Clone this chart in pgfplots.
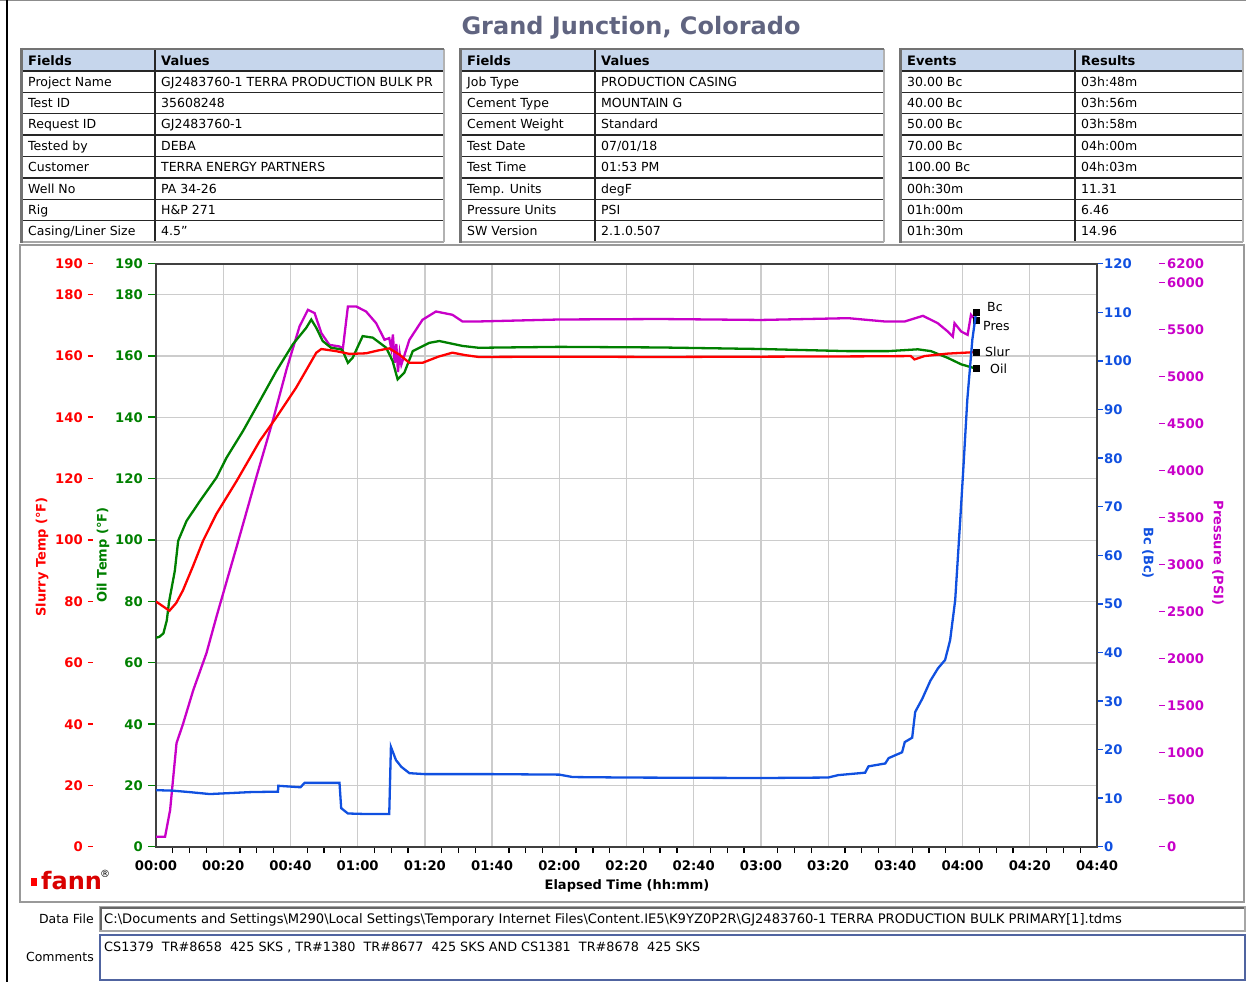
\documentclass[border=0pt]{standalone}
\usepackage{pgfplots}
\usepackage{pgfplotstable}
\pgfplotsset{compat=1.18}
\usepackage{fontspec}
\setmainfont{DejaVu Sans}
\definecolor{cred}{RGB}{255,0,0}
\definecolor{cgreen}{RGB}{0,128,0}
\definecolor{cblue}{RGB}{16,80,224}
\definecolor{cmag}{RGB}{200,0,200}
\definecolor{hdr}{RGB}{198,214,236}
\definecolor{ttl}{RGB}{96,100,128}
\definecolor{cbox}{RGB}{80,100,160}
\newcommand{\tabfont}{\fontsize{12.5}{14}\selectfont}
\newcommand{\tickfont}{\fontsize{13.2}{15}\selectfont\bfseries}
\newcommand{\dash}[1]{\rule[0.33em]{#1}{1.4pt}}
\newcommand{\gl}[1]{#1\hspace{5pt}\dash{7pt}}
\newcommand{\rl}[1]{#1\hspace{5pt}\dash{5pt}}
\newcommand{\bl}[1]{\dash{5pt}\hspace{1pt}#1}
\newcommand{\ml}[1]{\dash{6pt}\hspace{2pt}#1}
\newcommand{\rt}[3]{\node[anchor=base west, inner sep=0pt, font=\tabfont] at (#1,{64.8+21.375*#2}) {#3};}
\newcommand{\hdt}[2]{\node[anchor=base west, inner sep=0pt, font=\fontsize{13}{15}\selectfont\bfseries] at (#1,65.5) {#2};}

\pgfplotstableread{
t v
0 80
2 78.5
4 77
6 79.5
8 83.6
11 91.5
14 99.8
18 108.6
24 119.3
30.9 132.4
35.8 140
41.7 149.7
47.7 161.1
49.2 162.3
53.6 161.6
57.6 160.7
62.5 160.9
66 161.8
69.4 162.5
72.4 160.5
75.4 157.8
79.3 157.8
84 159.8
88.2 161.1
92 160.3
96 159.7
120 159.8
150 159.7
180 159.8
210 159.9
224.6 160
225.7 158.9
228.7 160
235.6 160.8
244 161.3
}\slur

\pgfplotstableread{
t v
0 68.2
1 68.5
2.2 69.6
3.2 73.8
3.9 80
5.6 90
6.6 99.8
9.1 106.3
13.1 112.8
18 120.4
21 126.9
25.9 135.6
30.9 145.4
35.8 155.1
40.7 163.8
44.7 169.2
46.2 171.9
47.7 169.2
49.6 164.9
52.1 162.7
55.1 162.2
55.6 161.6
57.1 157.8
58.5 159.4
61.5 166.5
64.5 166
68.5 162.7
70.4 158.4
71.9 152.4
73.9 154.6
76.4 161.6
81.3 164.3
84.3 164.9
91.2 163.3
96 162.7
120 163
150 162.8
180 162.3
206 161.6
217.8 161.6
226.7 162.2
230.6 161.6
235.6 159.4
239.6 157.3
244 155.9
}\oil

\pgfplotstableread{
t v
0 110
2.7 110
4.2 393
6.1 1103
8.1 1316
11.1 1670
15 2060
18 2450
20 2699
24 3194
29.9 3939
34.8 4540
38.8 5074
42.7 5535
45.2 5713
47.2 5678
49.2 5465
51.6 5340
54.6 5323
55.6 5300
57.1 5748
59.6 5748
62.5 5695
65.5 5571
68 5394
69.4 5412
70 5300
70.5 5450
71 5150
71.5 5350
72 5050
72.5 5250
73 5130
75.4 5394
79.3 5607
83.3 5695
88.2 5660
91.2 5589
96 5589
120 5610
150 5615
180 5605
206 5624
216.8 5589
222.8 5589
228.2 5649
232.6 5571
235.6 5482
237.1 5429
237.6 5571
239.6 5482
241.5 5447
242.5 5660
244 5600
}\pres

\pgfplotstableread{
t v
0 11.7
5 11.6
10 11.3
16 10.9
22 11.1
28 11.3
36.3 11.4
36.4 12.6
43 12.3
44.2 13.2
54.6 13.2
55.1 8.0
57.1 6.9
62 6.8
69.4 6.8
69.9 20.6
71.4 17.9
73 16.5
75.4 15.2
80 15.0
100 15.0
120 14.9
124 14.4
140 14.3
180 14.2
200 14.3
203 14.8
211 15.3
212 16.6
217 17.2
218 18.3
222 19.5
222.8 21.6
225 22.5
225.9 27.8
228 30.5
230.4 34.2
232.7 36.8
234.8 38.5
236.3 42.6
237.8 50.8
239.3 67.3
240.2 77.6
241.4 92
242.9 104.4
244 110
}\bc

\pgfplotsset{base/.style={scale only axis, width=941pt, height=583pt,
  xmin=0, xmax=280, at={(156pt,-847pt)}, anchor=south west}}

\begin{document}
\begin{tikzpicture}
\path[use as bounding box] (0pt,0pt) rectangle (1246pt,-982pt);

% ---------- main axis (grid, x labels, green tick labels)
\begin{axis}[base, ymin=0, ymax=190,
  axis line style={line width=2pt, black!75},
  grid=major, major grid style={line width=1.3pt, black!20},
  xtick={0,20,...,280},
  xticklabels={00:00,00:20,00:40,01:00,01:20,01:40,02:00,02:20,02:40,03:00,03:20,03:40,04:00,04:20,04:40},
  minor xtick={5,10,15,25,30,35,45,50,55,65,70,75,85,90,95,105,110,115,125,130,135,145,150,155,165,170,175,185,190,195,205,210,215,225,230,235,245,250,255,265,270,275},
  xtick pos=bottom, ytick pos=left, tick align=outside,
  major tick length=0pt, minor tick length=6pt,
  minor tick style={line width=1.3pt, black},
  xticklabel style={font=\tickfont, black, yshift=-10pt},
  ytick={0,20,40,60,80,100,120,140,160,180,190},
  yticklabels={\gl{0},\gl{20},\gl{40},\gl{60},\gl{80},\gl{100},\gl{120},\gl{140},\gl{160},\gl{180},\gl{190}},
  yticklabel style={font=\tickfont, text=cgreen, anchor=east, inner sep=0pt, xshift=-1pt},
]
\addplot[draw=none] coordinates {(0,0)};
\end{axis}

% ---------- pressure axis
\begin{axis}[base, ymin=0, ymax=6200, hide x axis, axis y line*=right,
  y axis line style={draw=none}, major tick length=0pt,
  ytick={0,500,1000,1500,2000,2500,3000,3500,4000,4500,5000,5500,6000,6200},
  yticklabels={\ml{0},\ml{500},\ml{1000},\ml{1500},\ml{2000},\ml{2500},\ml{3000},\ml{3500},\ml{4000},\ml{4500},\ml{5000},\ml{5500},\ml{6000},\ml{6200}},
  yticklabel style={font=\tickfont, text=cmag, anchor=west, inner sep=0pt, xshift=62pt},
]
\addplot[cmag, line width=2.3pt] table[x=t,y=v] {\pres};
\addplot[only marks, mark=square*, mark size=3pt, black] coordinates {(244,5600)};
\node[anchor=west, font=\tabfont, inner sep=0pt] at (axis cs:244,5540) [xshift=7pt] {Pres};
\end{axis}

% ---------- temperature axis (red labels, red & green curves)
\begin{axis}[base, ymin=0, ymax=190, hide x axis, axis y line*=left,
  y axis line style={draw=none}, major tick length=0pt,
  ytick={0,20,40,60,80,100,120,140,160,180,190},
  yticklabels={\rl{0},\rl{20},\rl{40},\rl{60},\rl{80},\rl{100},\rl{120},\rl{140},\rl{160},\rl{180},\rl{190}},
  yticklabel style={font=\tickfont, text=cred, anchor=east, inner sep=0pt, xshift=-63pt},
]
\addplot[cgreen, line width=2.3pt] table[x=t,y=v] {\oil};
\addplot[cred, line width=2.3pt] table[x=t,y=v] {\slur};
\addplot[only marks, mark=square*, mark size=3pt, black] coordinates {(244,161.3) (244,155.9)};
\node[anchor=west, font=\tabfont, inner sep=0pt] at (axis cs:244,161.3) [xshift=9pt] {Slur};
\node[anchor=west, font=\tabfont, inner sep=0pt] at (axis cs:244,155.9) [xshift=14pt] {Oil};
\end{axis}

% ---------- Bc axis
\begin{axis}[base, ymin=0, ymax=120, hide x axis, axis y line*=right,
  y axis line style={draw=none}, major tick length=0pt,
  ytick={0,10,20,30,40,50,60,70,80,90,100,110,120},
  yticklabels={\bl{0},\bl{10},\bl{20},\bl{30},\bl{40},\bl{50},\bl{60},\bl{70},\bl{80},\bl{90},\bl{100},\bl{110},\bl{120}},
  yticklabel style={font=\tickfont, text=cblue, anchor=west, inner sep=0pt, xshift=1pt},
]
\addplot[cblue, line width=2.3pt] table[x=t,y=v] {\bc};
\addplot[only marks, mark=square*, mark size=3pt, black] coordinates {(244,110)};
\node[anchor=west, font=\tabfont, inner sep=0pt] at (axis cs:244,111.2) [xshift=11pt] {Bc};
\end{axis}

\begin{scope}[x=1pt, y=-1pt]
% outer frame
\draw[black!45, line width=1.5pt] (0,0.75) -- (1246,0.75);
\draw[black, line width=2pt] (7,0) -- (7,982);
\draw[black!40, line width=2pt] (20,245) rectangle (1244,902);

% title
\node[font=\fontsize{24}{28}\selectfont\bfseries, text=ttl] at (631,28) {Grand Junction, Colorado};

% tables
\foreach \xa/\xm/\xb in {21/155/444, 460/595/884, 900/1075/1243} {
  \fill[hdr] (\xa,50) rectangle (\xb,71);
  \foreach \k in {0,...,7} \draw[black!85, line width=1.3pt] (\xa,{71+21.375*\k}) -- (\xb,{71+21.375*\k});
  \draw[black!85, line width=1.3pt] (\xm,50) -- (\xm,242);
  \draw[black!35, line width=1.3pt] (\xa,242) -- (\xb,242);
  \draw[black!30, line width=1.3pt] (\xb,49) -- (\xb,242);
  \draw[black!55, line width=2pt] (\xa-1,49) -- (\xb,49);
  \draw[black!55, line width=3pt] (\xa,48) -- (\xa,243);
}
\hdt{28}{Fields}\hdt{161}{Values}
\hdt{467}{Fields}\hdt{601}{Values}
\hdt{907}{Events}\hdt{1081}{Results}
\rt{28}{1}{Project Name}\rt{161}{1}{GJ2483760-1 TERRA PRODUCTION BULK PR}
\rt{28}{2}{Test ID}\rt{161}{2}{35608248}
\rt{28}{3}{Request ID}\rt{161}{3}{GJ2483760-1}
\rt{28}{4}{Tested by}\rt{161}{4}{DEBA}
\rt{28}{5}{Customer}\rt{161}{5}{TERRA ENERGY PARTNERS}
\rt{28}{6}{Well No}\rt{161}{6}{PA 34-26}
\rt{28}{7}{Rig}\rt{161}{7}{H\&P 271}
\rt{28}{8}{Casing/Liner Size}\rt{161}{8}{4.5"}
\rt{467}{1}{Job Type}\rt{601}{1}{PRODUCTION CASING}
\rt{467}{2}{Cement Type}\rt{601}{2}{MOUNTAIN G}
\rt{467}{3}{Cement Weight}\rt{601}{3}{Standard}
\rt{467}{4}{Test Date}\rt{601}{4}{07/01/18}
\rt{467}{5}{Test Time}\rt{601}{5}{01:53 PM}
\rt{467}{6}{Temp. Units}\rt{601}{6}{degF}
\rt{467}{7}{Pressure Units}\rt{601}{7}{PSI}
\rt{467}{8}{SW Version}\rt{601}{8}{2.1.0.507}
\rt{907}{1}{30.00 Bc}\rt{1081}{1}{03h:48m}
\rt{907}{2}{40.00 Bc}\rt{1081}{2}{03h:56m}
\rt{907}{3}{50.00 Bc}\rt{1081}{3}{03h:58m}
\rt{907}{4}{70.00 Bc}\rt{1081}{4}{04h:00m}
\rt{907}{5}{100.00 Bc}\rt{1081}{5}{04h:03m}
\rt{907}{6}{00h:30m}\rt{1081}{6}{11.31}
\rt{907}{7}{01h:00m}\rt{1081}{7}{6.46}
\rt{907}{8}{01h:30m}\rt{1081}{8}{14.96}

% axis titles
\node[rotate=90, font=\fontsize{13}{15}\selectfont\bfseries, text=cred] at (42,557) {Slurry Temp (°F)};
\node[rotate=90, font=\fontsize{13}{15}\selectfont\bfseries, text=cgreen] at (103,555) {Oil Temp (°F)};
\node[rotate=-90, font=\fontsize{13}{15}\selectfont\bfseries, text=cblue] at (1148,553) {Bc (Bc)};
\node[rotate=-90, font=\fontsize{13}{15}\selectfont\bfseries, text=cmag] at (1218,553) {Pressure (PSI)};
\node[font=\fontsize{13}{15}\selectfont\bfseries] at (627,886) {Elapsed Time (hh:mm)};

% logo
\fill[cred] (31,878) rectangle (37,886);
\node[anchor=base west, inner sep=0pt, font=\fontsize{24}{26}\selectfont\bfseries, text=cred!85!black] at (41,889) {fann};
\node[anchor=base west, inner sep=0pt, font=\fontsize{10}{12}\selectfont] at (100,877) {®};

% bottom boxes
\draw[black!35, line width=1.2pt] (100,907) rectangle (1245,931);
\draw[black!60, line width=1.2pt] (101,930) -- (101,908) -- (1244,908);
\node[anchor=base east, inner sep=0pt, font=\tabfont] at (94,923.5) {Data File};
\node[anchor=base west, inner sep=0pt, font=\fontsize{13.1}{15}\selectfont] at (104,923.5) {C:\textbackslash Documents and Settings\textbackslash M290\textbackslash Local Settings\textbackslash Temporary Internet Files\textbackslash Content.IE5\textbackslash K9YZ0P2R\textbackslash GJ2483760-1 TERRA PRODUCTION BULK PRIMARY[1].tdms};
\draw[cbox, line width=1.5pt] (100,935) rectangle (1245,980);
\node[anchor=base east, inner sep=0pt, font=\tabfont] at (94,961.5) {Comments};
\node[anchor=base west, inner sep=0pt, font=\fontsize{12.8}{15}\selectfont] at (104,951.5) {CS1379\ \ TR\#8658\ \ 425 SKS , TR\#1380\ \ TR\#8677\ \ 425 SKS AND CS1381\ \ TR\#8678\ \ 425 SKS};
\end{scope}
\end{tikzpicture}
\end{document}
